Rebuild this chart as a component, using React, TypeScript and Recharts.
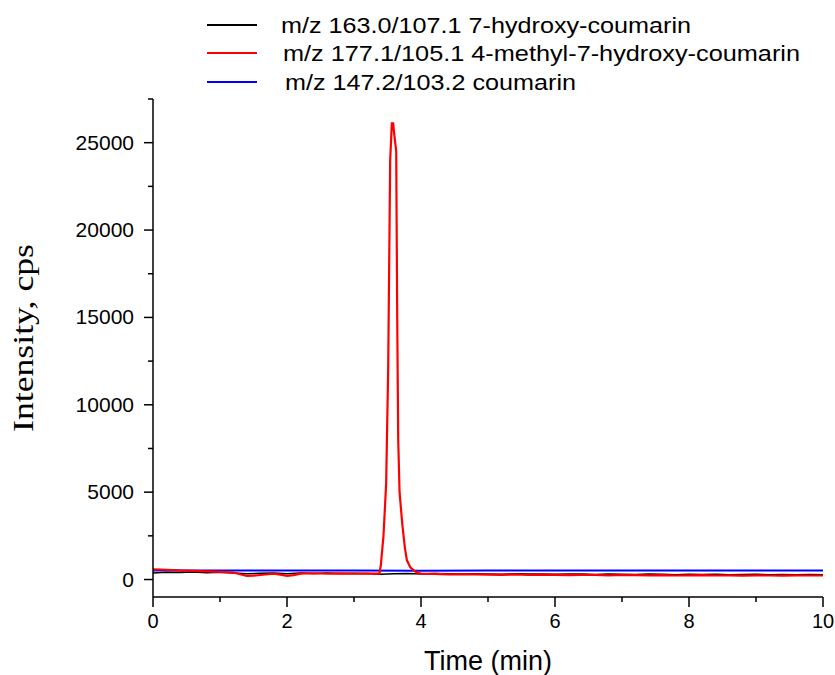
import React from 'react';
import { LineChart, Line, XAxis, YAxis } from 'recharts';

// retention time (min) / intensity (cps)
const blackTimes = [0, 0.2, 0.4, 0.6, 0.8, 1.0, 1.2, 1.4, 1.6, 1.8, 2.0, 2.2, 2.4, 2.6, 2.8, 3.0, 3.2, 3.4, 3.6, 3.8, 4.0, 4.2, 4.4, 4.6, 4.8, 5.0, 5.2, 5.4, 5.6, 5.8, 6.0, 6.2, 6.4, 6.6, 6.8, 7.0, 7.2, 7.4, 7.6, 7.8, 8.0, 8.2, 8.4, 8.6, 8.8, 9.0, 9.2, 9.4, 9.6, 9.8, 10.0];
const blackValues = [380, 420, 400, 430, 390, 410, 380, 330, 360, 380, 330, 370, 350, 380, 340, 360, 350, 300, 330, 340, 320, 340, 330, 310, 330, 320, 300, 330, 310, 320, 300, 310, 320, 290, 310, 300, 290, 310, 300, 280, 300, 290, 300, 280, 290, 300, 280, 290, 280, 290, 280];

const redTimes = [0, 0.2, 0.4, 0.6, 0.8, 1.0, 1.2, 1.3, 1.4, 1.5, 1.6, 1.8, 1.9, 2.0, 2.1, 2.2, 2.4, 2.6, 2.8, 3.0, 3.2, 3.38, 3.40, 3.44, 3.48, 3.51, 3.54, 3.565, 3.585, 3.60, 3.63, 3.645, 3.66, 3.68, 3.72, 3.76, 3.79, 3.84, 3.9, 3.95, 4.0, 4.2, 4.4, 4.6, 4.8, 5.0, 5.2, 5.4, 5.6, 5.8, 6.0, 6.2, 6.4, 6.6, 6.8, 7.0, 7.2, 7.4, 7.6, 7.8, 8.0, 8.2, 8.4, 8.6, 8.8, 9.0, 9.2, 9.4, 9.6, 9.8, 10.0];
const redValues = [580, 560, 520, 500, 470, 440, 400, 300, 210, 220, 260, 330, 280, 210, 250, 340, 360, 330, 350, 330, 340, 340, 800, 2500, 5500, 12000, 24000, 26100, 26100, 25500, 24500, 15000, 8000, 5000, 3200, 1800, 1100, 700, 500, 380, 340, 320, 300, 290, 300, 280, 270, 290, 260, 280, 270, 250, 270, 260, 240, 260, 250, 240, 250, 230, 240, 250, 230, 240, 220, 240, 230, 220, 240, 230, 230];

const blueTimes = [0, 1, 2, 3, 4, 5, 6, 7, 8, 9, 10];
const blueValues = [520, 520, 510, 510, 500, 510, 510, 510, 520, 510, 520];

const seriesNames = [
  'm/z 163.0/107.1 7-hydroxy-coumarin',
  'm/z 177.1/105.1 4-methyl-7-hydroxy-coumarin',
  'm/z 147.2/103.2 coumarin',
];
const seriesColors = ['#000000', '#ff0000', '#0000ff'];

const xTicks = [0, 1, 2, 3, 4, 5, 6, 7, 8, 9, 10];
const yTicks = [0, 2500, 5000, 7500, 10000, 12500, 15000, 17500, 20000, 22500, 25000, 27500];

const toRows = (times: number[], values: number[]) => times.map((t, i) => ({ t, v: values[i] }));

const blackData = toRows(blackTimes, blackValues);
const redData = toRows(redTimes, redValues);
const blueData = toRows(blueTimes, blueValues);

const FONT = '"Liberation Sans", Arial, sans-serif';

const XTick = (props: any) => {
  const { x, y, payload } = props;
  const major = payload.value % 2 === 0;
  return (
    <g>
      <line x1={x} x2={x} y1={y} y2={y + (major ? 10 : 5)} stroke="#000" strokeWidth={1.5} />
      {major && (
        <text x={x} y={y + 31} textAnchor="middle" fontSize={20} fontFamily={FONT} fill="#000">
          {payload.value}
        </text>
      )}
    </g>
  );
};

const YTick = (props: any) => {
  const { x, y, payload } = props;
  const major = payload.value % 5000 === 0;
  return (
    <g>
      <line x1={x} x2={x - (major ? 9 : 5)} y1={y} y2={y} stroke="#000" strokeWidth={1.5} />
      {major && (
        <text x={x - 19} y={y + 7} textAnchor="end" fontSize={21} fontFamily={FONT} fill="#000">
          {payload.value}
        </text>
      )}
    </g>
  );
};

const legendRows = [
  { y: 25, textX: 281, width: 410 },
  { y: 53, textX: 283, width: 517 },
  { y: 82, textX: 285, width: 291 },
];

export default function App() {
  return (
    <div style={{ position: 'absolute', left: 0, top: 0, width: 835, height: 675, background: '#fff' }}>
      <LineChart width={835} height={675} margin={{ top: 99, right: 12, bottom: 0, left: 0 }}>
        <XAxis
          type="number"
          dataKey="t"
          domain={[0, 10]}
          ticks={xTicks}
          interval={0}
          tickSize={0}
          tickMargin={0}
          tick={<XTick />}
          height={78}
          axisLine={{ stroke: '#000', strokeWidth: 1.5 }}
          allowDataOverflow
        />
        <YAxis
          type="number"
          dataKey="v"
          domain={[-1000, 27500]}
          ticks={yTicks}
          interval={0}
          tickSize={0}
          tickMargin={0}
          tick={<YTick />}
          width={153}
          axisLine={{ stroke: '#000', strokeWidth: 1.5 }}
          allowDataOverflow
        />
        <Line data={blackData} dataKey="v" type="linear" stroke={seriesColors[0]} strokeWidth={1.5} dot={false} isAnimationActive={false} />
        <Line data={blueData} dataKey="v" type="linear" stroke={seriesColors[2]} strokeWidth={2} dot={false} isAnimationActive={false} />
        <Line data={redData} dataKey="v" type="linear" stroke={seriesColors[1]} strokeWidth={2.2} dot={false} isAnimationActive={false} />
      </LineChart>
      <svg width={835} height={675} style={{ position: 'absolute', left: 0, top: 0, pointerEvents: 'none' }}>
        {legendRows.map((row, i) => (
          <g key={i}>
            <line x1={207} x2={257} y1={row.y} y2={row.y} stroke={seriesColors[i]} strokeWidth={2} />
            <text
              x={row.textX}
              y={row.y + 8}
              fontSize={22}
              fontFamily={FONT}
              textLength={row.width}
              lengthAdjust="spacingAndGlyphs"
              fill="#000"
            >
              {seriesNames[i]}
            </text>
          </g>
        ))}
        <text
          x={488}
          y={670}
          textAnchor="middle"
          fontSize={27}
          fontFamily={FONT}
          fill="#000"
        >
          Time (min)
        </text>
        <text
          transform="translate(33, 338) rotate(-90)"
          textAnchor="middle"
          fontSize={30}
          fontFamily={'"Liberation Serif", "Times New Roman", serif'}
          textLength={188}
          lengthAdjust="spacingAndGlyphs"
          fill="#000"
        >
          Intensity, cps
        </text>
      </svg>
    </div>
  );
}
